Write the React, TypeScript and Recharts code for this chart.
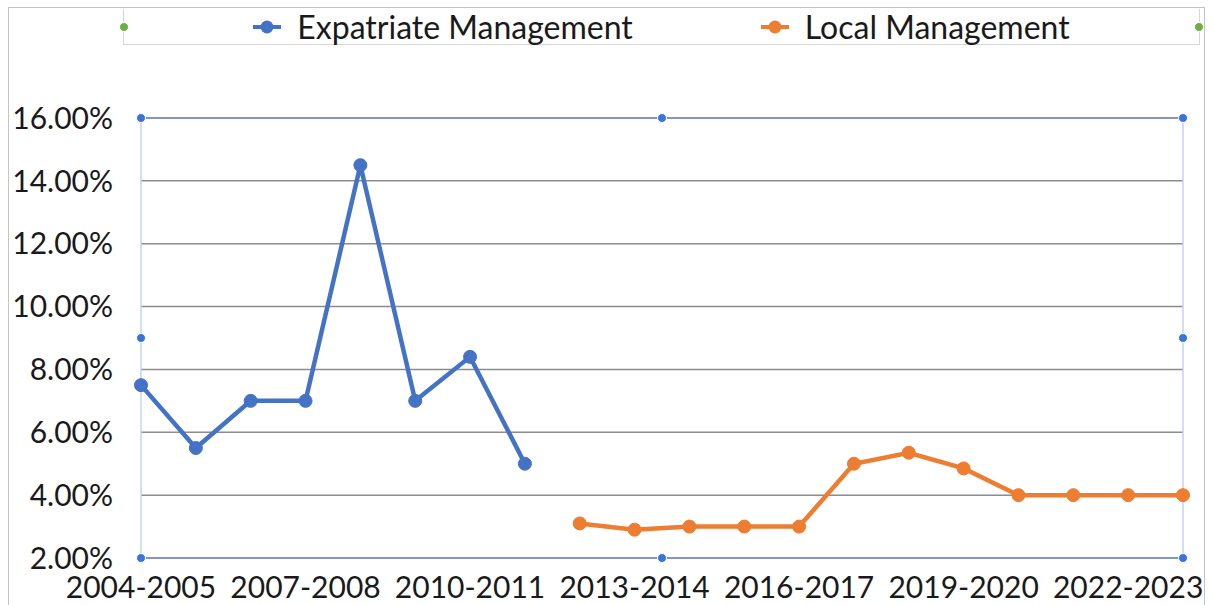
import React from 'react';
import {
  LineChart,
  Line,
  XAxis,
  YAxis,
  CartesianGrid,
  Legend,
  ReferenceLine,
  ReferenceDot,
} from 'recharts';

const categories = [
  '2004-2005', '2005-2006', '2006-2007', '2007-2008', '2008-2009',
  '2009-2010', '2010-2011', '2011-2012', '2012-2013', '2013-2014',
  '2014-2015', '2015-2016', '2016-2017', '2017-2018', '2018-2019',
  '2019-2020', '2020-2021', '2021-2022', '2022-2023', '2023-2024',
];

const expatriate: (number | null)[] = [
  7.5, 5.5, 7.0, 7.0, 14.5, 7.0, 8.4, 5.0,
  null, null, null, null, null, null, null, null, null, null, null, null,
];

const local: (number | null)[] = [
  null, null, null, null, null, null, null, null,
  3.1, 2.9, 3.0, 3.0, 3.0, 5.0, 5.35, 4.85, 4.0, 4.0, 4.0, 4.0,
];

const yTicks = [2, 4, 6, 8, 10, 12, 14, 16];

const seriesNames = ['Expatriate Management', 'Local Management'];
const seriesColors = ['#4472C4', '#ED7D31'];

const data = categories.map((c, i) => ({
  cat: c,
  idx: i,
  expat: expatriate[i],
  local: local[i],
}));

const lastIdx = categories.length - 1;
const yMin = yTicks[0];
const yMax = yTicks[yTicks.length - 1];
const yMid = (yMin + yMax) / 2;
const xMid = lastIdx / 2;

const handlePoints: [number, number][] = [
  [0, yMax], [xMid, yMax], [lastIdx, yMax],
  [0, yMid], [lastIdx, yMid],
  [0, yMin], [xMid, yMin], [lastIdx, yMin],
];

const FONT = 'Lato, "Open Sans", sans-serif';

const LegendContent = () => (
  <div
    style={{
      position: 'relative',
      width: '100%',
      height: '100%',
      boxSizing: 'border-box',
      border: '1.5px solid #d6d6d6',
      borderTop: 'none',
      display: 'flex',
      alignItems: 'center',
      justifyContent: 'center',
      fontFamily: FONT,
      fontSize: 32,
      color: '#1a1a1a',
    }}
  >
    {seriesNames.map((n, i) => (
      <div
        key={n}
        style={{
          display: 'flex',
          alignItems: 'center',
          marginLeft: i === 0 ? 0 : 128,
        }}
      >
        <svg width={28} height={14} style={{ display: 'block' }}>
          <line x1={0} y1={7} x2={28} y2={7} stroke={seriesColors[i]} strokeWidth={4} />
          <circle cx={14} cy={7} r={6.5} fill={seriesColors[i]} />
        </svg>
        <span style={{ marginLeft: 16, lineHeight: '36px' }}>{n}</span>
      </div>
    ))}
    {[0, 1].map((k) => (
      <div
        key={k}
        style={{
          position: 'absolute',
          top: '50%',
          left: k === 0 ? 0 : '100%',
          width: 8,
          height: 8,
          marginLeft: -5.5,
          marginTop: -5,
          borderRadius: '50%',
          background: '#70AD47',
          border: '1.5px solid #ffffff',
        }}
      />
    ))}
  </div>
);

const fmt = (v: number) => `${v.toFixed(2)}%`;

export default function App() {
  return (
    <div
      style={{
        position: 'absolute',
        left: 0,
        top: 0,
        width: 1214,
        height: 605,
        overflow: 'hidden',
        background: '#ffffff',
      }}
    >
      <div
        style={{
          position: 'absolute',
          left: 8,
          top: 7,
          width: 1197,
          height: 700,
          boxSizing: 'border-box',
          border: '1.5px solid #c4c4c4',
        }}
      />
      <LineChart
        width={1214}
        height={605}
        data={data}
        margin={{ top: 118, right: 31, bottom: 7, left: 0 }}
        style={{ position: 'absolute', left: 0, top: 0 }}
      >
        <CartesianGrid horizontal vertical={false} stroke="#8c8c8c" strokeWidth={1.5} />
        <XAxis
          dataKey="cat"
          interval={2}
          tickLine={false}
          axisLine={false}
          tickSize={0}
          tickMargin={19}
          height={40}
          tick={{ fill: '#1a1a1a', fontSize: 30, fontFamily: FONT }}
        />
        <XAxis xAxisId="frame" dataKey="idx" type="number" domain={[0, lastIdx]} hide />
        <YAxis
          domain={[yMin, yMax]}
          ticks={yTicks}
          tickFormatter={fmt}
          tickLine={false}
          axisLine={false}
          tickSize={0}
          tickMargin={28}
          width={141}
          tick={{ fill: '#1a1a1a', fontSize: 30, fontFamily: FONT }}
        />
        <ReferenceLine xAxisId="frame" x={0} stroke="#c3d3f3" strokeWidth={1.5} ifOverflow="visible" />
        <ReferenceLine xAxisId="frame" x={lastIdx} stroke="#c3d3f3" strokeWidth={1.5} ifOverflow="visible" />
        <ReferenceLine y={yMin} stroke="#7d8fc4" strokeWidth={1.5} ifOverflow="visible" />
        <ReferenceLine y={yMax} stroke="#7d8fc4" strokeWidth={1.5} ifOverflow="visible" />
        {handlePoints.map(([hx, hy], i) => (
          <ReferenceDot
            key={i}
            xAxisId="frame"
            x={hx}
            y={hy}
            r={4.5}
            fill="#3b74d8"
            stroke="#ffffff"
            strokeWidth={1}
            ifOverflow="visible"
          />
        ))}
        <Legend
          layout="horizontal"
          verticalAlign="middle"
          align="center"
          content={<LegendContent />}
          wrapperStyle={{ top: 9, left: 123, width: 1077, height: 36 }}
        />
        <Line
          dataKey="expat"
          name={seriesNames[0]}
          stroke={seriesColors[0]}
          strokeWidth={4.5}
          dot={{ r: 6.5, fill: seriesColors[0], stroke: seriesColors[0], strokeWidth: 1 }}
          activeDot={false}
          isAnimationActive={false}
          connectNulls={false}
        />
        <Line
          dataKey="local"
          name={seriesNames[1]}
          stroke={seriesColors[1]}
          strokeWidth={4.5}
          dot={{ r: 6.5, fill: seriesColors[1], stroke: seriesColors[1], strokeWidth: 1 }}
          activeDot={false}
          isAnimationActive={false}
          connectNulls={false}
        />
      </LineChart>
    </div>
  );
}
